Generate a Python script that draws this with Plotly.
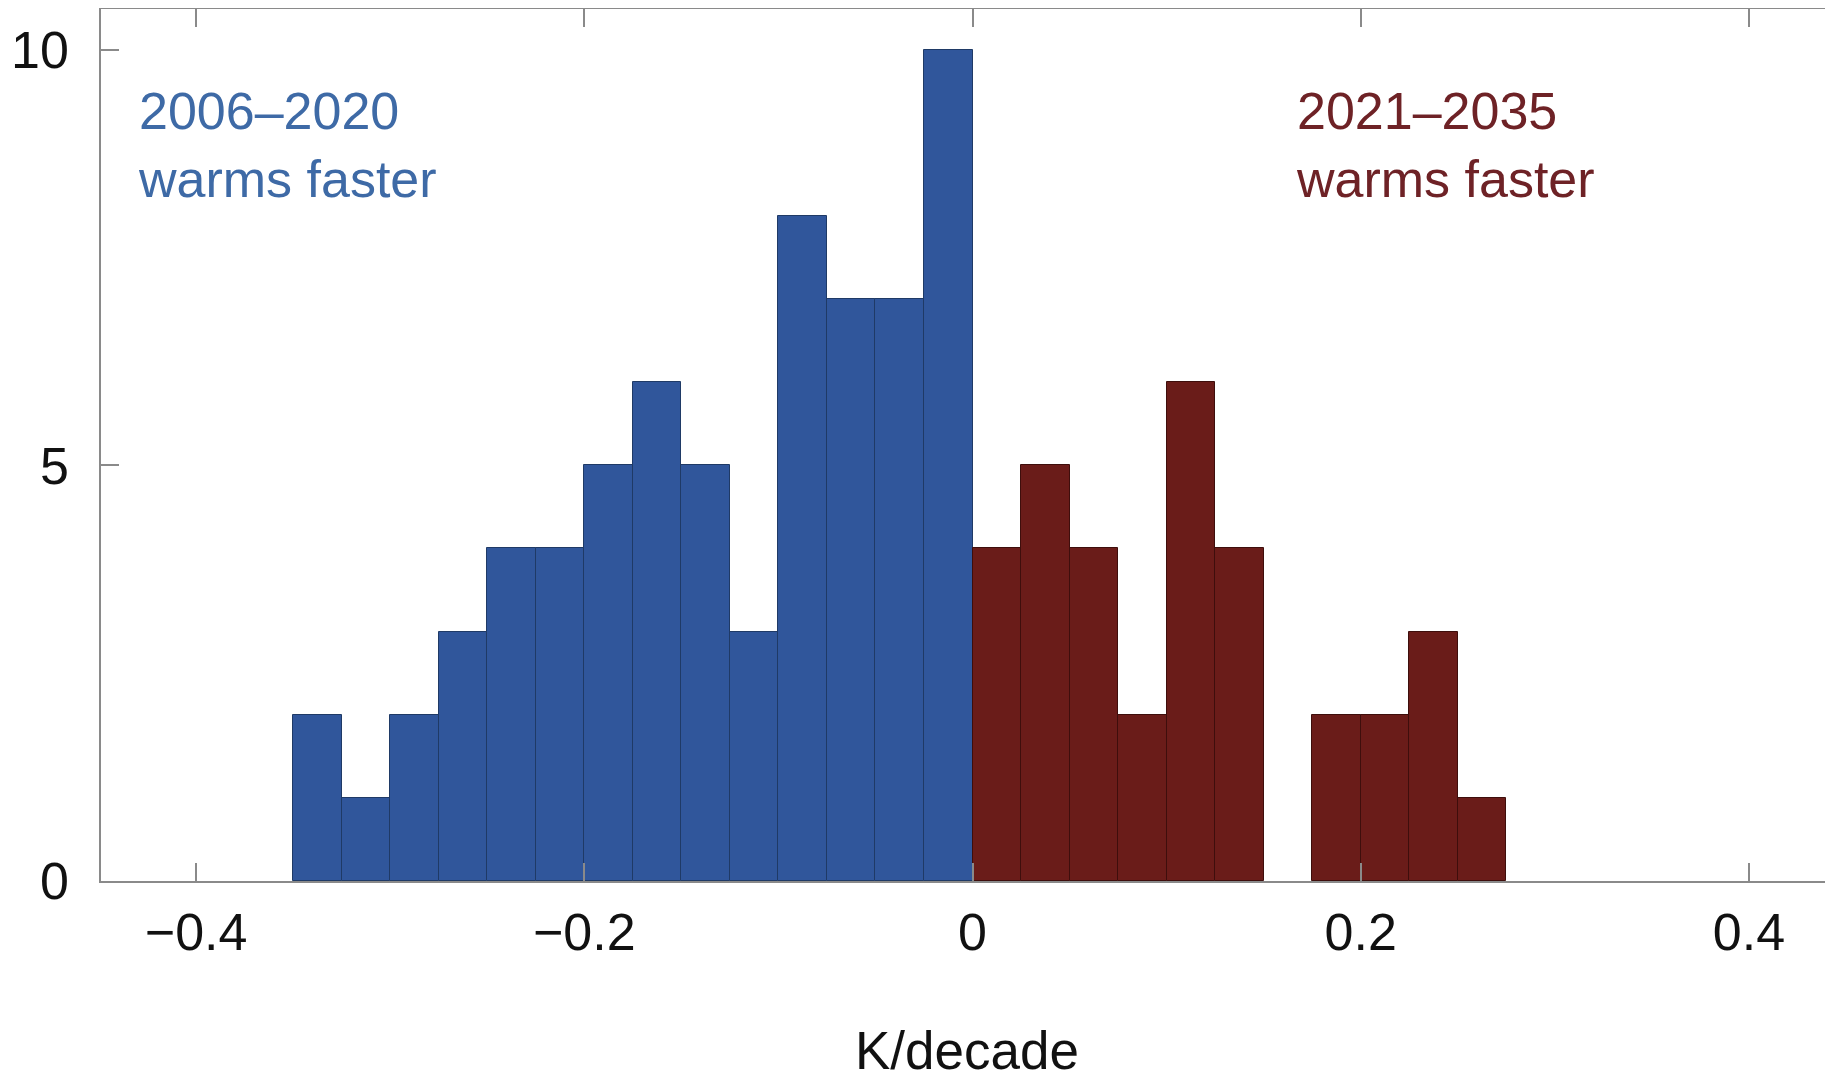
import plotly.graph_objects as go

# Histogram data (bin left edges in K/decade, counts)
bin_width = 0.025
blue_left = [-0.35, -0.325, -0.3, -0.275, -0.25, -0.225, -0.2, -0.175,
             -0.15, -0.125, -0.1, -0.075, -0.05, -0.025]
blue_counts = [2, 1, 2, 3, 4, 4, 5, 6, 5, 3, 8, 7, 7, 10]
red_left = [0.0, 0.025, 0.05, 0.075, 0.1, 0.125, 0.15, 0.175, 0.2, 0.225, 0.25]
red_counts = [4, 5, 4, 2, 6, 4, 0, 2, 2, 3, 1]

x_ticks = [-0.4, -0.2, 0, 0.2, 0.4]
x_ticklabels = ["\u22120.4", "\u22120.2", "0", "0.2", "0.4"]
y_ticks = [0, 5, 10]
y_ticklabels = ["0", "5", "10"]

blue = "#30569b"
red = "#6a1c19"
blue_text = "#3e6aa6"
red_text = "#6e2226"
axis_grey = "#8a8a8a"
FONT = "Liberation Sans, Arial, Helvetica, sans-serif"


def nonzero(lefts, counts):
    xs = [l + bin_width / 2 for l, c in zip(lefts, counts) if c > 0]
    ys = [c for c in counts if c > 0]
    return xs, ys


fig = go.Figure()
bx, by = nonzero(blue_left, blue_counts)
fig.add_trace(go.Bar(
    x=bx, y=by, width=bin_width,
    marker=dict(color=blue, line=dict(color="#1f3a66", width=1)),
    showlegend=False, hoverinfo="x+y"))
rx, ry = nonzero(red_left, red_counts)
fig.add_trace(go.Bar(
    x=rx, y=ry, width=bin_width,
    marker=dict(color=red, line=dict(color="#3e0e0c", width=1)),
    showlegend=False, hoverinfo="x+y"))

fig.add_annotation(x=-0.431, y=9.633, xref="x", yref="y", xanchor="left", yanchor="top",
                   text="2006\u20132020<br>warms faster", showarrow=False, align="left",
                   font=dict(family=FONT, size=52, color=blue_text))
fig.add_annotation(x=0.1655, y=9.633, xref="x", yref="y", xanchor="left", yanchor="top",
                   text="2021\u20132035<br>warms faster", showarrow=False, align="left",
                   font=dict(family=FONT, size=52, color=red_text))

fig.update_layout(
    width=1825, height=1076,
    margin=dict(l=93, r=0, t=1, b=203),
    paper_bgcolor="white", plot_bgcolor="white",
    bargap=0,
    font=dict(family=FONT, size=52, color="#111111"),
    xaxis=dict(
        range=[-0.449, 0.4433], tickmode="array", tickvals=x_ticks, ticktext=x_ticklabels,
        ticks="inside", ticklen=18, tickwidth=1.5, tickcolor=axis_grey,
        showline=True, linecolor=axis_grey, linewidth=2, mirror="ticks",
        showgrid=False, zeroline=False, ticklabelstandoff=5,
        tickfont=dict(family=FONT, size=52, color="#111111"),
        title=dict(text="K/decade", standoff=71, font=dict(family=FONT, size=53, color="#111111")),
    ),
    yaxis=dict(
        range=[0, 10.49], tickmode="array", tickvals=y_ticks, ticktext=y_ticklabels,
        ticks="inside", ticklen=18, tickwidth=1.5, tickcolor=axis_grey,
        showline=True, linecolor=axis_grey, linewidth=1.5,
        showgrid=False, zeroline=False, ticklabelstandoff=20,
        tickfont=dict(family=FONT, size=52, color="#111111"),
    ),
)

fig.write_html("out.html")
